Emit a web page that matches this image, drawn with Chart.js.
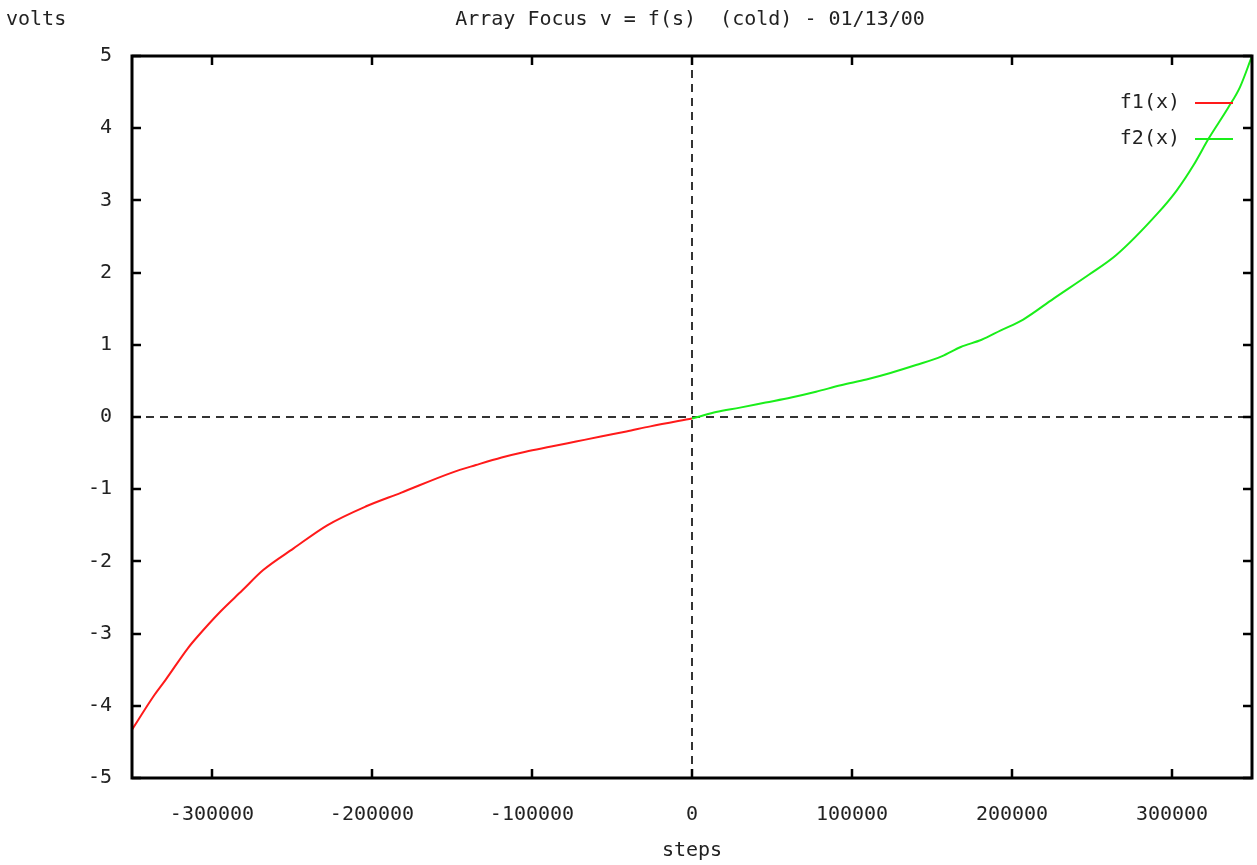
<!DOCTYPE html>
<html>
<head>
<meta charset="utf-8">
<script src="https://cdn.jsdelivr.net/npm/chart.js@4/dist/chart.umd.min.js"></script>
<style>
  html, body { margin: 0; padding: 0; background: #fff; }
  #wrap { width: 1257px; height: 865px; }
</style>
</head>
<body>
<div id="wrap"><canvas id="c"></canvas></div>
<script>
const titleText = 'Array Focus v = f(s)  (cold) - 01/13/00';
const yLabel = 'volts';
const xLabel = 'steps';

const xTicks = [-300000, -200000, -100000, 0, 100000, 200000, 300000];
const yTicks = [-5, -4, -3, -2, -1, 0, 1, 2, 3, 4, 5];

// f1(x): negative steps
const f1Steps = [-350000, -336000, -329000, -315000, -309000, -295000, -281000, -268000, -249000,
                 -228000, -204000, -182000, -150000, -135000, -119000, -104000, -88000, -72500,
                 -57000, -41000, -26000, 0];
const f1Volts = [-4.33, -3.85, -3.64, -3.20, -3.04, -2.70, -2.40, -2.12, -1.82,
                 -1.50, -1.24, -1.05, -0.77, -0.665, -0.56, -0.48, -0.41, -0.34,
                 -0.27, -0.20, -0.13, -0.02];

// f2(x): positive steps
const f2Steps = [0, 3500, 15000, 30000, 46000, 62000, 77500, 93000, 109000, 124000, 140000, 156000,
                 168000, 181000, 193000, 207000, 226000, 248000, 265000, 291000, 303000, 313500,
                 323000, 335000, 342500, 350000];
const f2Volts = [-0.02, 0.0, 0.07, 0.13, 0.20, 0.27, 0.35, 0.44, 0.52, 0.61, 0.72, 0.84,
                 0.97, 1.07, 1.20, 1.35, 1.64, 1.97, 2.24, 2.82, 3.14, 3.49,
                 3.86, 4.28, 4.57, 5.0];

const FONT = '"DejaVu Sans Mono", "Liberation Mono", monospace';
const INK = '#222';

const toPoints = (xs, ys) => xs.map((x, i) => ({ x: x, y: ys[i] }));

// gnuplot-ish frame: border, inward mirrored ticks, dashed zero axes, title, legend
const gnuplotFrame = {
    id: 'gnuplotFrame',
    beforeDatasetsDraw(chart) {
        const { ctx, chartArea: a, scales: { x, y } } = chart;
        ctx.save();
        ctx.strokeStyle = '#333';
        ctx.lineWidth = 2;
        ctx.setLineDash([8, 6]);
        const x0 = Math.round(x.getPixelForValue(0));
        const y0 = Math.round(y.getPixelForValue(0));
        ctx.beginPath();
        ctx.moveTo(x0, a.top); ctx.lineTo(x0, a.bottom);
        ctx.moveTo(a.left, y0); ctx.lineTo(a.right, y0);
        ctx.stroke();
        ctx.restore();
    },
    afterDatasetsDraw(chart) {
        const { ctx, chartArea: a, scales: { x, y } } = chart;
        ctx.save();
        ctx.strokeStyle = '#000';
        ctx.lineWidth = 3;
        ctx.strokeRect(a.left, a.top, a.right - a.left, a.bottom - a.top);

        const tl = 9;
        ctx.lineWidth = 2.5;
        ctx.beginPath();
        xTicks.forEach(v => {
            const px = Math.round(x.getPixelForValue(v));
            ctx.moveTo(px, a.bottom); ctx.lineTo(px, a.bottom - tl);
            ctx.moveTo(px, a.top); ctx.lineTo(px, a.top + tl);
        });
        yTicks.forEach(v => {
            const py = Math.round(y.getPixelForValue(v));
            ctx.moveTo(a.left, py); ctx.lineTo(a.left + tl, py);
            ctx.moveTo(a.right, py); ctx.lineTo(a.right - tl, py);
        });
        ctx.stroke();

        // title and y label
        ctx.fillStyle = INK;
        ctx.font = '20px ' + FONT;
        ctx.textBaseline = 'middle';
        ctx.textAlign = 'center';
        ctx.fillText(titleText, 690, 20);
        ctx.textAlign = 'left';
        ctx.fillText(yLabel, 6, 20);

        // legend: text right-aligned, then line sample
        chart.data.datasets.forEach((ds, i) => {
            const ly = 103 + i * 36;
            ctx.textAlign = 'right';
            ctx.fillStyle = INK;
            ctx.fillText(ds.label, 1180, ly);
            ctx.strokeStyle = ds.borderColor;
            ctx.lineWidth = 2;
            ctx.beginPath();
            ctx.moveTo(1195, ly); ctx.lineTo(1233, ly);
            ctx.stroke();
        });
        ctx.restore();
    }
};

new Chart(document.getElementById('c'), {
    type: 'line',
    data: {
        datasets: [
            { label: 'f1(x)', data: toPoints(f1Steps, f1Volts), borderColor: '#ff1a1a', borderWidth: 2, pointRadius: 0, cubicInterpolationMode: 'monotone' },
            { label: 'f2(x)', data: toPoints(f2Steps, f2Volts), borderColor: '#1aee1a', borderWidth: 2, pointRadius: 0, cubicInterpolationMode: 'monotone' }
        ]
    },
    options: {
        responsive: true,
        maintainAspectRatio: false,
        animation: false,
        layout: { padding: { top: 56, right: 5, left: 0, bottom: 0 } },
        plugins: {
            legend: { display: false },
            title: { display: false },
            tooltip: { enabled: false }
        },
        scales: {
            x: {
                type: 'linear',
                min: -350000,
                max: 350000,
                afterBuildTicks: s => { s.ticks = xTicks.map(v => ({ value: v })); },
                afterFit: s => { s.height = 87; },
                grid: { display: false, drawTicks: false },
                border: { display: false },
                ticks: { color: INK, font: { family: FONT, size: 20 }, padding: 25, maxRotation: 0, callback: v => String(v) },
                title: { display: true, text: xLabel, color: INK, font: { family: FONT, size: 20 }, padding: { top: 0, bottom: 2 } }
            },
            y: {
                type: 'linear',
                min: -5,
                max: 5,
                afterBuildTicks: s => { s.ticks = yTicks.map(v => ({ value: v })); },
                afterFit: s => { s.width = 132; },
                grid: { display: false, drawTicks: false },
                border: { display: false },
                ticks: { color: INK, font: { family: FONT, size: 20 }, padding: 20, callback: v => String(v) }
            }
        }
    },
    plugins: [gnuplotFrame]
});
</script>
</body>
</html>
